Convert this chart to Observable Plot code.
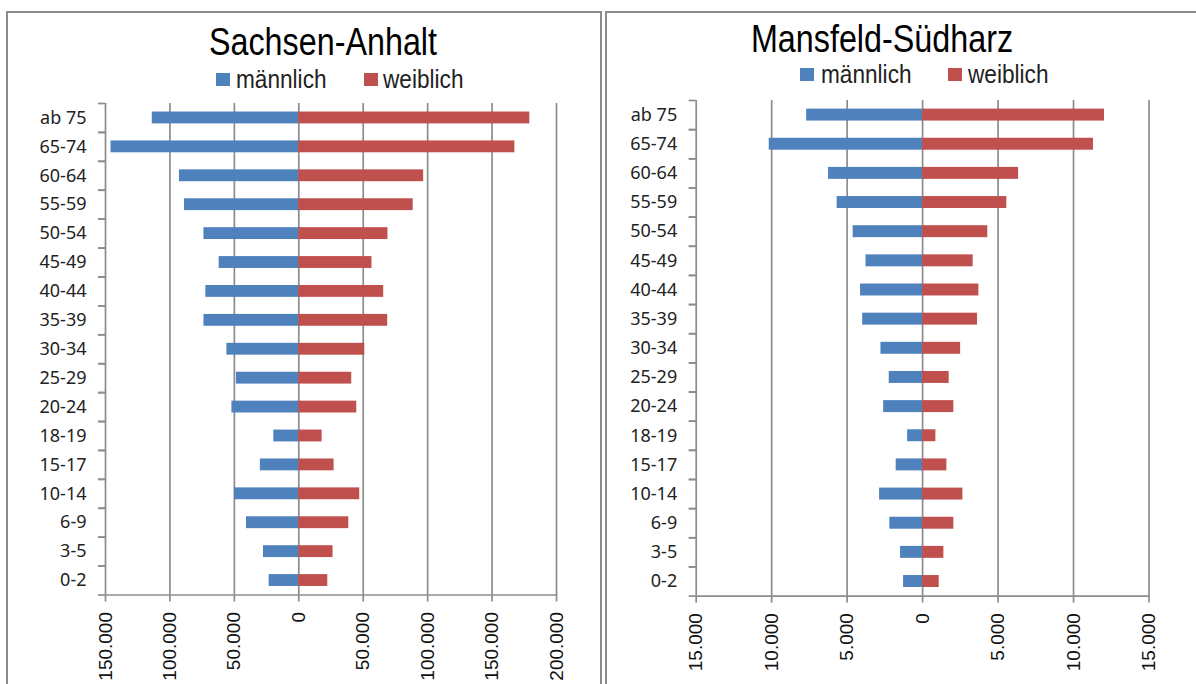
<!DOCTYPE html>
<html>
<head>
<meta charset="utf-8">
<script src="https://cdn.jsdelivr.net/npm/d3@7"></script>
<script src="https://cdn.jsdelivr.net/npm/@observablehq/plot@0.6"></script>
<style>
  html, body { margin: 0; padding: 0; background: #fff; }
  body { width: 1196px; height: 684px; position: relative; overflow: hidden; }
  .frame { position: absolute; border: 2px solid #8c8c8c; box-sizing: border-box; }
  .title { position: absolute; text-align: center; font-family: "Liberation Sans", Arial, sans-serif; font-size: 38px; line-height: 34px; color: #000; white-space: nowrap; transform: scaleX(0.85); transform-origin: 50% 50%; }
  .ltext { position: absolute; font-family: "Liberation Sans", Arial, sans-serif; font-size: 26px; line-height: 24px; color: #222; white-space: nowrap; transform: scaleX(0.87); transform-origin: 0 50%; }
  .sw { position: absolute; width: 14px; height: 13px; }
  .plot { position: absolute; top: 0; }
</style>
</head>
<body>
<div class="frame" style="left:6px; top:11px; width:596px; height:700px;"></div>
<div class="frame" style="left:605px; top:11px; width:600px; height:700px;"></div>
<div id="t1" class="title" style="left:123px; width:400px; top:25px;"></div>
<div id="t2" class="title" style="left:682px; width:400px; top:22px;"></div>
<div id="legends"></div>
<div id="p1" class="plot" style="left:0px;"></div>
<div id="p2" class="plot" style="left:600px;"></div>
<script>
// ---- data ----
const ageGroups = ["ab 75","65-74","60-64","55-59","50-54","45-49","40-44","35-39","30-34","25-29","20-24","18-19","15-17","10-14","6-9","3-5","0-2"];
const saMale   = [113700,145700,92600,88700,73600,61800,72100,73600,55800,48400,51900,19400,29800,49900,40600,27400,23000];
const saFemale = [179300,167700,96900,88800,69200,56800,65900,69000,51200,41100,45000,18100,27400,47300,38800,26600,22500];
const msMale   = [7680,10160,6230,5660,4600,3750,4110,3970,2760,2210,2580,990,1750,2850,2170,1460,1260];
const msFemale = [12050,11320,6360,5580,4320,3350,3730,3640,2520,1760,2070,880,1610,2670,2070,1410,1100];
const saTicks = [-150000,-100000,-50000,0,50000,100000,150000,200000];
const msTicks = [-15000,-10000,-5000,0,5000,10000,15000];
const titles = ["Sachsen-Anhalt", "Mansfeld-Südharz"];
const seriesNames = ["männlich", "weiblich"];
const colors = ["#4F81BD", "#C0504D"];

const de = d3.formatLocale({decimal: ",", thousands: ".", grouping: [3], currency: ["", " €"]});
const fmt = (d) => de.format(",")(Math.abs(d));
const grid = "#8c8c8c";

function pyramid(male, female, ticks, opts) {
  const data = ageGroups.map((a, i) => ({age: a, male: male[i], female: female[i]}));
  const step = (opts.height - opts.marginTop - opts.marginBottom) / ageGroups.length;
  return Plot.plot({
    width: opts.width,
    height: opts.height,
    marginLeft: opts.marginLeft,
    marginRight: opts.marginRight,
    marginTop: opts.marginTop,
    marginBottom: opts.marginBottom,
    style: {background: "transparent", overflow: "visible"},
    x: {domain: [ticks[0], ticks[ticks.length - 1]]},
    y: {domain: ageGroups, paddingInner: 0.59, paddingOuter: 0.295, round: false},
    marks: [
      Plot.ruleX(ticks, {stroke: grid, strokeWidth: 1.7}),
      Plot.barX(data, {y: "age", x1: 0, x2: (d) => -d.male, fill: colors[0]}),
      Plot.barX(data, {y: "age", x1: 0, x2: "female", fill: colors[1]}),
      Plot.frame({anchor: "bottom", stroke: grid, strokeWidth: 1.7}),
      Plot.axisY({tickSize: 0, tickPadding: opts.yPad, label: null, fontSize: 18, fontFamily: "'Noto Sans', 'DejaVu Sans', sans-serif", fill: "#222"}),
      Plot.axisY({tickSize: 7, tickFormat: () => "", label: null, dy: -step / 2, stroke: grid, strokeWidth: 1.7}),
      Plot.axisY({tickSize: 7, tickFormat: () => "", label: null, dy: step / 2, stroke: grid, strokeWidth: 1.7}),
      Plot.axisX({ticks: ticks, tickSize: 7, tickPadding: 10, tickRotate: -90, tickFormat: fmt, label: null, fontSize: 19, fontFamily: "'Liberation Sans', Arial, sans-serif", fill: "#111", stroke: grid, strokeWidth: 1.7})
    ]
  });
}

document.getElementById("p1").appendChild(pyramid(saMale, saFemale, saTicks, {
  width: 600, height: 684, marginLeft: 105, marginRight: 44, marginTop: 103, marginBottom: 89.5, yPad: 19
}));
document.getElementById("p2").appendChild(pyramid(msMale, msFemale, msTicks, {
  width: 596, height: 684, marginLeft: 95.7, marginRight: 47.5, marginTop: 100, marginBottom: 88.4, yPad: 19
}));

document.getElementById("t1").textContent = titles[0];
document.getElementById("t2").textContent = titles[1];

// legend layout: [swatch x, text x] per series, and swatch top per panel
const legendLayout = [
  {top: 73, items: [[216, 236], [364, 383]]},
  {top: 68, items: [[800, 821], [948, 968]]}
];
const lg = document.getElementById("legends");
legendLayout.forEach((panel) => {
  panel.items.forEach(([sx, tx], i) => {
    const sw = document.createElement("div");
    sw.className = "sw";
    sw.style.left = sx + "px";
    sw.style.top = panel.top + "px";
    sw.style.background = colors[i];
    lg.appendChild(sw);
    const t = document.createElement("div");
    t.className = "ltext";
    t.style.left = tx + "px";
    t.style.top = (panel.top - 6) + "px";
    t.textContent = seriesNames[i];
    lg.appendChild(t);
  });
});
</script>
</body>
</html>
